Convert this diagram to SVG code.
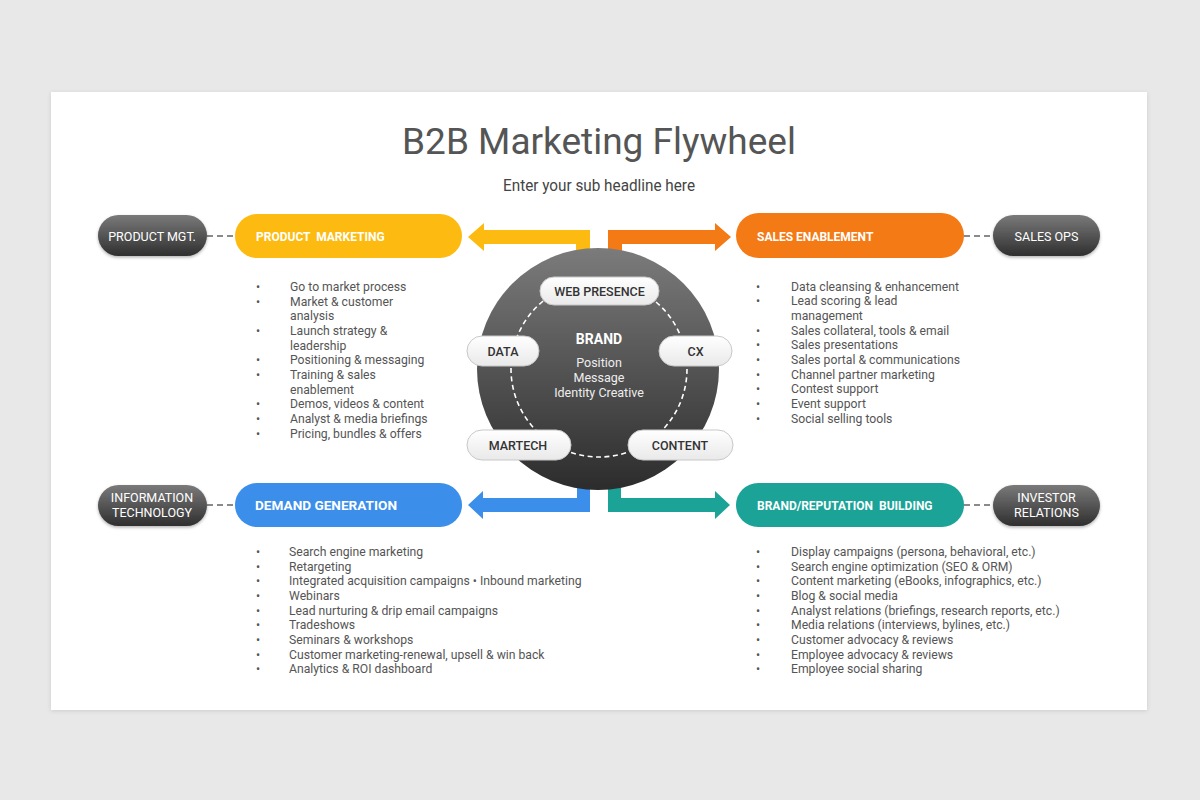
<svg xmlns="http://www.w3.org/2000/svg" width="1200" height="800" viewBox="0 0 1200 800">
<defs>
<linearGradient id="dark" x1="0" y1="0" x2="0" y2="1">
<stop offset="0" stop-color="#7a7a7a"/><stop offset="1" stop-color="#2f2f2f"/>
</linearGradient>
<linearGradient id="wheel" x1="0" y1="0" x2="0" y2="1">
<stop offset="0" stop-color="#7b7b7b"/><stop offset="1" stop-color="#2c2c2c"/>
</linearGradient>
<linearGradient id="light" x1="0" y1="0" x2="0" y2="1">
<stop offset="0" stop-color="#ffffff"/><stop offset="1" stop-color="#e9e9e9"/>
</linearGradient>
<filter id="sh" x="-10%" y="-10%" width="120%" height="130%">
<feDropShadow dx="0" dy="1.5" stdDeviation="1.5" flood-color="#000" flood-opacity="0.3"/>
</filter>
<filter id="cardsh" x="-5%" y="-5%" width="110%" height="110%">
<feDropShadow dx="0" dy="1" stdDeviation="2" flood-color="#000" flood-opacity="0.12"/>
</filter>
</defs>
<style>
text{font-family:Roboto,"Liberation Sans",sans-serif}
.title{font-size:37px;fill:#555}
.sub{font-size:17px;fill:#444}
.main{font-size:12px;font-weight:bold;fill:#fff;white-space:pre}
.side{font-size:12.5px;fill:#fff}
.lab{font-size:12.5px;font-weight:500;fill:#333;text-anchor:middle}
.li{font-size:12.2px;fill:#555}
.dash{stroke:#8a8a8a;stroke-width:2;stroke-dasharray:6 4;fill:none}
</style>
<rect width="1200" height="800" fill="#e9e8e9"/>
<rect x="51" y="92" width="1096" height="618" fill="#fff" filter="url(#cardsh)"/>
<text class="title" x="599" y="154" text-anchor="middle">B2B Marketing Flywheel</text>
<text class="sub" x="599" y="191" text-anchor="middle" textLength="192" lengthAdjust="spacingAndGlyphs">Enter your sub headline here</text>

<g id="connectors">
<path class="dash" d="M207 236 H235"/>
<path class="dash" d="M964 236 H993"/>
<path class="dash" d="M207 505 H235"/>
<path class="dash" d="M964 505 H993"/>
<path fill="#fdbb11" d="M590 252 V230 H484 V223 L468 237 L484 251 V244 H576 V252 Z"/>
<path fill="#f47a16" d="M608 252 V230 H715 V223 L731 237 L715 251 V244 H622 V252 Z"/>
<path fill="#3b8eea" d="M590 486 V512 H483 V519 L468 505 L483 491 V498 H577 V486 Z"/>
<path fill="#1ca398" d="M608 486 V512 H715 V519 L730 505 L715 491 V498 H621 V486 Z"/>
</g>

<g id="wheel">
<circle cx="598" cy="369" r="121" fill="url(#wheel)"/>
<circle cx="599" cy="369" r="88" fill="none" stroke="#fff" stroke-width="1.6" stroke-dasharray="5 3.5"/>
<text x="599" y="344" text-anchor="middle" font-size="14" font-weight="bold" fill="#fff">BRAND</text>
<text x="599" y="367" text-anchor="middle" font-size="12.5" fill="#eee">Position</text>
<text x="599" y="382" text-anchor="middle" font-size="12.5" fill="#eee">Message</text>
<text x="599" y="397" text-anchor="middle" font-size="12.5" fill="#eee">Identity Creative</text>
</g>
<g id="web-presence"><rect x="540" y="277" width="119" height="28" rx="14" fill="url(#light)" stroke="#c8c8c8"/><text class="lab" x="599.5" y="295.5">WEB PRESENCE</text></g>
<g id="data"><rect x="467" y="336" width="72" height="30" rx="15" fill="url(#light)" stroke="#c8c8c8"/><text class="lab" x="503" y="355.5">DATA</text></g>
<g id="cx"><rect x="659" y="336" width="73" height="30" rx="15" fill="url(#light)" stroke="#c8c8c8"/><text class="lab" x="695.5" y="355.5">CX</text></g>
<g id="martech"><rect x="467" y="430" width="104" height="30" rx="15" fill="url(#light)" stroke="#c8c8c8"/><text class="lab" x="518" y="449.5">MARTECH</text></g>
<g id="content"><rect x="628" y="430" width="105" height="30" rx="15" fill="url(#light)" stroke="#c8c8c8"/><text class="lab" x="680" y="449.5">CONTENT</text></g>

<g id="product-mgt"><rect x="98" y="215" width="109" height="41" rx="20.5" fill="url(#dark)" filter="url(#sh)"/><text class="side" x="152" y="240.5" text-anchor="middle">PRODUCT MGT.</text></g>
<g id="product-marketing"><rect x="235" y="214" width="227" height="44" rx="22" fill="#fdbb11"/><text class="main" x="256" y="240.5" xml:space="preserve">PRODUCT  MARKETING</text></g>
<g id="sales-enablement"><rect x="736" y="213" width="228" height="45" rx="22.5" fill="#f47a16"/><text class="main" x="757" y="240.5">SALES ENABLEMENT</text></g>
<g id="sales-ops"><rect x="993" y="215" width="107" height="41" rx="20.5" fill="url(#dark)" filter="url(#sh)"/><text class="side" x="1046.5" y="240.5" text-anchor="middle">SALES OPS</text></g>
<g id="information-technology"><rect x="98" y="485" width="109" height="41" rx="20.5" fill="url(#dark)" filter="url(#sh)"/><text class="side" x="152" y="501.5" text-anchor="middle">INFORMATION</text><text class="side" x="152" y="516.5" text-anchor="middle">TECHNOLOGY</text></g>
<g id="demand-generation"><rect x="235" y="483" width="227" height="44" rx="22" fill="#3b8eea"/><text class="main" x="255" y="510" style="font-size:13.6px">DEMAND GENERATION</text></g>
<g id="brand-reputation"><rect x="736" y="483" width="228" height="44" rx="22" fill="#1ca398"/><text class="main" x="757" y="509.5" xml:space="preserve">BRAND/REPUTATION  BUILDING</text></g>
<g id="investor-relations"><rect x="993" y="485" width="107" height="41" rx="20.5" fill="url(#dark)" filter="url(#sh)"/><text class="side" x="1046.5" y="501.5" text-anchor="middle">INVESTOR</text><text class="side" x="1046.5" y="516.5" text-anchor="middle">RELATIONS</text></g>

<g id="pm-list">
<text class="li" x="256" y="291">•</text><text class="li" x="290" y="291">Go to market process</text>
<text class="li" x="256" y="306">•</text><text class="li" x="290" y="306">Market &amp; customer</text>
<text class="li" x="290" y="320">analysis</text>
<text class="li" x="256" y="335">•</text><text class="li" x="290" y="335">Launch strategy &amp;</text>
<text class="li" x="290" y="350">leadership</text>
<text class="li" x="256" y="364">•</text><text class="li" x="290" y="364">Positioning &amp; messaging</text>
<text class="li" x="256" y="379">•</text><text class="li" x="290" y="379">Training &amp; sales</text>
<text class="li" x="290" y="394">enablement</text>
<text class="li" x="256" y="408">•</text><text class="li" x="290" y="408">Demos, videos &amp; content</text>
<text class="li" x="256" y="423">•</text><text class="li" x="290" y="423">Analyst &amp; media briefings</text>
<text class="li" x="256" y="438">•</text><text class="li" x="290" y="438">Pricing, bundles &amp; offers</text>
</g>
<g id="se-list">
<text class="li" x="756" y="291">•</text><text class="li" x="791" y="291">Data cleansing &amp; enhancement</text>
<text class="li" x="756" y="305">•</text><text class="li" x="791" y="305">Lead scoring &amp; lead</text>
<text class="li" x="791" y="320">management</text>
<text class="li" x="756" y="335">•</text><text class="li" x="791" y="335">Sales collateral, tools &amp; email</text>
<text class="li" x="756" y="349">•</text><text class="li" x="791" y="349">Sales presentations</text>
<text class="li" x="756" y="364">•</text><text class="li" x="791" y="364">Sales portal &amp; communications</text>
<text class="li" x="756" y="379">•</text><text class="li" x="791" y="379">Channel partner marketing</text>
<text class="li" x="756" y="393">•</text><text class="li" x="791" y="393">Contest support</text>
<text class="li" x="756" y="408">•</text><text class="li" x="791" y="408">Event support</text>
<text class="li" x="756" y="423">•</text><text class="li" x="791" y="423">Social selling tools</text>
</g>
<g id="dg-list">
<text class="li" x="256" y="556">•</text><text class="li" x="289" y="556">Search engine marketing</text>
<text class="li" x="256" y="571">•</text><text class="li" x="289" y="571">Retargeting</text>
<text class="li" x="256" y="585">•</text><text class="li" x="289" y="585">Integrated acquisition campaigns • Inbound marketing</text>
<text class="li" x="256" y="600">•</text><text class="li" x="289" y="600">Webinars</text>
<text class="li" x="256" y="615">•</text><text class="li" x="289" y="615">Lead nurturing &amp; drip email campaigns</text>
<text class="li" x="256" y="629">•</text><text class="li" x="289" y="629">Tradeshows</text>
<text class="li" x="256" y="644">•</text><text class="li" x="289" y="644">Seminars &amp; workshops</text>
<text class="li" x="256" y="659">•</text><text class="li" x="289" y="659">Customer marketing-renewal, upsell &amp; win back</text>
<text class="li" x="256" y="673">•</text><text class="li" x="289" y="673">Analytics &amp; ROI dashboard</text>
</g>
<g id="br-list">
<text class="li" x="756" y="556">•</text><text class="li" x="791" y="556">Display campaigns (persona, behavioral, etc.)</text>
<text class="li" x="756" y="571">•</text><text class="li" x="791" y="571">Search engine optimization (SEO &amp; ORM)</text>
<text class="li" x="756" y="585">•</text><text class="li" x="791" y="585">Content marketing (eBooks, infographics, etc.)</text>
<text class="li" x="756" y="600">•</text><text class="li" x="791" y="600">Blog &amp; social media</text>
<text class="li" x="756" y="615">•</text><text class="li" x="791" y="615">Analyst relations (briefings, research reports, etc.)</text>
<text class="li" x="756" y="629">•</text><text class="li" x="791" y="629">Media relations (interviews, bylines, etc.)</text>
<text class="li" x="756" y="644">•</text><text class="li" x="791" y="644">Customer advocacy &amp; reviews</text>
<text class="li" x="756" y="659">•</text><text class="li" x="791" y="659">Employee advocacy &amp; reviews</text>
<text class="li" x="756" y="673">•</text><text class="li" x="791" y="673">Employee social sharing</text>
</g>
</svg>
